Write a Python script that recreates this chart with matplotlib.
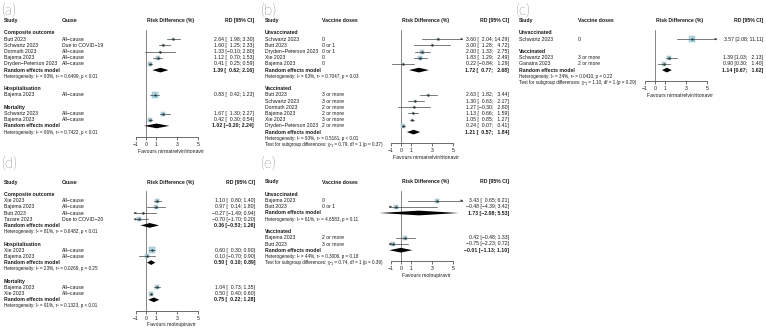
import matplotlib.pyplot as plt
from matplotlib.transforms import blended_transform_factory

plt.rcParams['font.family'] = ['Liberation Sans', 'DejaVu Sans']

# ---- (a) nirmatrelvir/ritonavir by outcome ----
A_GROUPS = ["Composite outcome", "Hospitalisation", "Mortality"]
A_STUDY = [["Butt 2023", "Schwartz 2023", "Dormuth 2023", "Bajema 2023", "Dryden−Peterson 2023"],
           ["Bajema 2023"],
           ["Schwartz 2023", "Bajema 2023"]]
A_CAUSE = [["All−cause", "Due to COVID−19", "All−cause", "All−cause", "All−cause"],
           ["All−cause"],
           ["All−cause", "All−cause"]]
A_RD = [[2.64, 1.60, 1.33, 1.12, 0.41], [0.83], [1.67, 0.42]]
A_LO = [[1.98, 1.25, -0.10, 0.70, 0.25], [0.42], [1.30, 0.30]]
A_HI = [[3.30, 2.33, 2.80, 1.53, 0.59], [1.23], [2.27, 0.54]]
A_WT = [[15, 20, 8, 22, 30], [100], [45, 55]]
A_RE = [(1.39, 0.62, 2.16), None, (1.02, -0.20, 2.24)]
A_HET = [("93%", "0.6499", "< 0.01"), None, ("96%", "0.7422", "< 0.01")]

# ---- (b) nirmatrelvir/ritonavir by vaccination ----
B_GROUPS = ["Unvaccinated", "Vaccinated"]
B_STUDY = [["Schwartz 2023", "Butt 2023", "Dryden−Peterson 2023", "Xie 2023", "Bajema 2023"],
           ["Butt 2023", "Schwartz 2023", "Dormuth 2023", "Bajema 2023", "Xie 2023", "Dryden−Peterson 2023"]]
B_DOSES = [["0", "0 or 1", "0 or 1", "0", "0"],
           ["3 or more", "3 or more", "2 or more", "2 or more", "3 or more", "2 or more"]]
B_RD = [[3.60, 3.00, 2.00, 1.83, 0.22], [2.63, 1.30, 1.27, 1.13, 1.05, 0.24]]
B_LO = [[2.04, 1.28, 1.33, 1.29, -0.84], [1.82, 0.63, -0.30, 0.66, 0.85, 0.07]]
B_HI = [[14.29, 4.72, 2.75, 2.49, 1.29], [3.44, 2.17, 2.80, 1.59, 1.27, 0.41]]
B_WT = [[12, 14, 24, 24, 18], [16, 14, 6, 16, 20, 22]]
B_RE = [(1.72, 0.77, 2.68), (1.21, 0.57, 1.84)]
B_HET = [("63%", "0.7047", "= 0.03"), ("93%", "0.5161", "< 0.01")]
B_TEST = ("0.79", "0.37")

# ---- (c) nirmatrelvir/ritonavir mortality by vaccination ----
C_GROUPS = ["Unvaccinated", "Vaccinated"]
C_STUDY = [["Schwartz 2023"], ["Schwartz 2023", "Ganatra 2023"]]
C_DOSES = [["0"], ["3 or more", "2 or more"]]
C_RD = [[3.57], [1.39, 0.90]]
C_LO = [[2.08], [1.03, 0.30]]
C_HI = [[11.11], [2.13, 1.40]]
C_WT = [[100], [45, 55]]
C_RE = [None, (1.14, 0.67, 1.62)]
C_HET = [None, ("34%", "0.0410", "= 0.22")]
C_TEST = ("1.10", "0.29")

# ---- (d) molnupiravir by outcome ----
D_GROUPS = ["Composite outcome", "Hospitalisation", "Mortality"]
D_STUDY = [["Xie 2023", "Bajema 2023", "Butt 2023", "Tazare 2023"],
           ["Xie 2023", "Bajema 2023"],
           ["Bajema 2023", "Xie 2023"]]
D_CAUSE = [["All−cause", "All−cause", "All−cause", "Due to COVID−20"],
           ["All−cause", "All−cause"],
           ["All−cause", "All−cause"]]
D_RD = [[1.10, 0.97, -0.27, -0.70], [0.60, 0.10], [1.04, 0.50]]
D_LO = [[0.80, 0.14, -1.49, -1.70], [0.30, -0.70], [0.73, 0.40]]
D_HI = [[1.40, 1.80, 0.94, 0.20], [0.90, 0.90], [1.35, 0.60]]
D_WT = [[30, 22, 20, 28], [70, 30], [45, 55]]
D_RE = [(0.36, -0.53, 1.26), (0.50, 0.10, 0.89), (0.75, 0.22, 1.28)]
D_HET = [("81%", "0.6482", "< 0.01"), ("23%", "0.0269", "= 0.25"), ("91%", "0.1323", "< 0.01")]

# ---- (e) molnupiravir by vaccination ----
E_GROUPS = ["Unvaccinated", "Vaccinated"]
E_STUDY = [["Bajema 2023", "Butt 2023"], ["Bajema 2023", "Butt 2023"]]
E_DOSES = [["0", "0 or 1"], ["2 or more", "3 or more"]]
E_RD = [[3.43, -0.48], [0.42, -0.75]]
E_LO = [[0.65, -4.39], [-0.48, -2.23]]
E_HI = [[6.21, 3.42], [1.33, 0.72]]
E_WT = [[50, 50], [55, 45]]
E_RE = [(1.73, -2.08, 5.53), (-0.01, -1.13, 1.10)]
E_HET = [("61%", "4.6583", "= 0.11"), ("44%", "0.3006", "= 0.18")]
E_TEST = ("0.74", "0.39")

W, H = 766, 330
ROW = 6.2        # pixels per text row
UNIT = 10.4      # pixels per 1 % risk difference
FS = 3.7
FS_SMALL = 3.3
TXT = '#1a1a1a'
BOX = '#a9d8e4'
XLIM = (-1.2, 6.0)
TICKS = [-1, 0, 1, 3, 5]
FIGSP = '\u2007'

fig = plt.figure(figsize=(W / 100, H / 100), dpi=100)


def fnum(v):
    return f"{v:.2f}".replace('-', '−')


def ci_strings(lo, hi, re):
    los, his = [], []
    for g in range(len(lo)):
        los += lo[g]; his += hi[g]
        if re[g] is not None:
            los.append(re[g][1]); his.append(re[g][2])
    wl = max(len(fnum(v)) for v in los)
    wh = max(len(fnum(v)) for v in his)

    def fmt(e, l, h):
        ls = fnum(l); hs = fnum(h)
        ls = FIGSP * (wl - len(ls)) + ls
        hs = FIGSP * (wh - len(hs)) + hs
        return f"{fnum(e)} [{ls}; {hs}]"
    return fmt


def panel(tag, tag_px, top, x_study, x_cov, cov_title, x_rd, zero_x,
          groups, studies, covs, rd, lo, hi, wt, re, het, test, favours):
    fmt = ci_strings(lo, hi, re)

    # row layout
    items = []
    r = 2
    last_re = 0
    for g in range(len(groups)):
        items.append(('group', r, g, None)); r += 1
        for i in range(len(studies[g])):
            items.append(('study', r, g, i)); r += 1
        if re[g] is not None:
            items.append(('re', r, g, None)); last_re = r; r += 1
        if het[g] is not None:
            items.append(('het', r, g, None)); r += 1
        if g < len(groups) - 1:
            r += 1
    test_row = r
    axis_row = last_re + 1.8

    left_px = zero_x + XLIM[0] * UNIT
    width_px = (XLIM[1] - XLIM[0]) * UNIT
    bottom_px = top + axis_row * ROW
    ax = fig.add_axes([left_px / W, 1 - bottom_px / H, width_px / W, axis_row * ROW / H])
    ax.set_xlim(XLIM)
    ax.set_ylim(axis_row, 0)
    ax.patch.set_visible(False)
    for s in ['top', 'left', 'right']:
        ax.spines[s].set_visible(False)
    ax.spines['bottom'].set_bounds(-1, 5)
    ax.spines['bottom'].set_linewidth(0.5)
    ax.spines['bottom'].set_color('#333333')
    ax.set_yticks([])
    ax.set_xticks(TICKS)
    ax.set_xticklabels([str(t).replace('-', '−') for t in TICKS])
    ax.tick_params(axis='x', length=2, width=0.5, labelsize=FS, pad=1.5,
                   colors='#333333', labelcolor=TXT)
    ax.set_xlabel(favours, fontsize=FS, labelpad=1.2, color=TXT)

    ax.plot([0, 0], [1.5, axis_row], color='#555555', lw=0.5, zorder=1)

    tr = blended_transform_factory(fig.transFigure, ax.transData)

    def t(xpx, row, s, fs=FS, **kw):
        ax.text(xpx / W, row, s, transform=tr, va='center', fontsize=fs,
                color=TXT, clip_on=False, **kw)

    # headers
    t(x_study, 0, "Study", fontweight='bold')
    t(x_cov, 0, cov_title, fontweight='bold')
    t(x_rd, 0, "RD [95% CI]", fontweight='bold', ha='right')
    ax.text(sum(XLIM) / 2, 0, "Risk Difference (%)", va='center', ha='center',
            fontsize=FS, fontweight='bold', color=TXT, clip_on=False)

    arrow = dict(arrowstyle='->', lw=0.5, color='#444444',
                 shrinkA=0, shrinkB=0, mutation_scale=3)
    for kind, row, g, i in items:
        if kind == 'group':
            t(x_study, row, groups[g], fontweight='bold')
        elif kind == 'study':
            e, l, h = rd[g][i], lo[g][i], hi[g][i]
            t(x_study, row, studies[g][i])
            t(x_cov, row, covs[g][i])
            t(x_rd, row, fmt(e, l, h), ha='right')
            side = max(2.2, 0.65 * wt[g][i] ** 0.5)
            ax.plot(e, row, marker='s', ms=side * 0.72, mfc=BOX, mec='#86b3c0',
                    mew=0.3, zorder=2)
            lc, hc = max(l, XLIM[0]), min(h, XLIM[1])
            ax.plot([lc, hc], [row, row], color='#444444', lw=0.5, zorder=3)
            ax.plot(e, row, marker='o', ms=0.7, color='#333333', zorder=4)
            if h > XLIM[1]:
                ax.annotate('', xy=(XLIM[1], row), xytext=(XLIM[1] - 0.3, row),
                            arrowprops=arrow, annotation_clip=False)
            if l < XLIM[0]:
                ax.annotate('', xy=(XLIM[0], row), xytext=(XLIM[0] + 0.3, row),
                            arrowprops=arrow, annotation_clip=False)
        elif kind == 're':
            e, l, h = re[g]
            t(x_study, row, "Random effects model", fontweight='bold')
            t(x_rd, row, fmt(e, l, h), ha='right', fontweight='bold')
            ax.fill([l, e, h, e], [row, row - 0.38, row, row + 0.38],
                    color='black', lw=0, clip_on=False, zorder=3)
        elif kind == 'het':
            i2, tau, p = het[g]
            t(x_study, row, f"Heterogeneity: I² = {i2}, τ² = {tau}, p {p}",
              fs=FS_SMALL)

    if test is not None:
        chi, p = test
        t(x_study, test_row,
          f"Test for subgroup differences: χ²₁ = {chi}, df = 1 (p = {p})",
          fs=FS_SMALL)

    fig.text(tag_px[0] / W, 1 - tag_px[1] / H, tag, fontsize=11, va='baseline',
             ha='left', color='#111111', family=['Lato', 'DejaVu Sans'],
             fontweight='light')


FAV_NR = "Favours nirmatrelvir/ritonavir"
FAV_MO = "Favours molnupiravir"

panel("(a)", (1, 15), 20.5, 4, 62, "Cause", 254, 146,
      A_GROUPS, A_STUDY, A_CAUSE, A_RD, A_LO, A_HI, A_WT, A_RE, A_HET, None, FAV_NR)
panel("(b)", (260, 15), 20.5, 265, 322, "Vaccine doses", 509, 401,
      B_GROUPS, B_STUDY, B_DOSES, B_RD, B_LO, B_HI, B_WT, B_RE, B_HET, B_TEST, FAV_NR)
panel("(c)", (515, 15), 20.5, 519, 578, "Vaccine doses", 763, 655,
      C_GROUPS, C_STUDY, C_DOSES, C_RD, C_LO, C_HI, C_WT, C_RE, C_HET, C_TEST, FAV_NR)
panel("(d)", (1, 168), 182, 4, 62, "Cause", 255, 146,
      D_GROUPS, D_STUDY, D_CAUSE, D_RD, D_LO, D_HI, D_WT, D_RE, D_HET, None, FAV_MO)
panel("(e)", (260, 168), 182, 265, 322, "Vaccine doses", 509, 401,
      E_GROUPS, E_STUDY, E_DOSES, E_RD, E_LO, E_HI, E_WT, E_RE, E_HET, E_TEST, FAV_MO)

fig.savefig('out.png', dpi=100)
plt.close(fig)
